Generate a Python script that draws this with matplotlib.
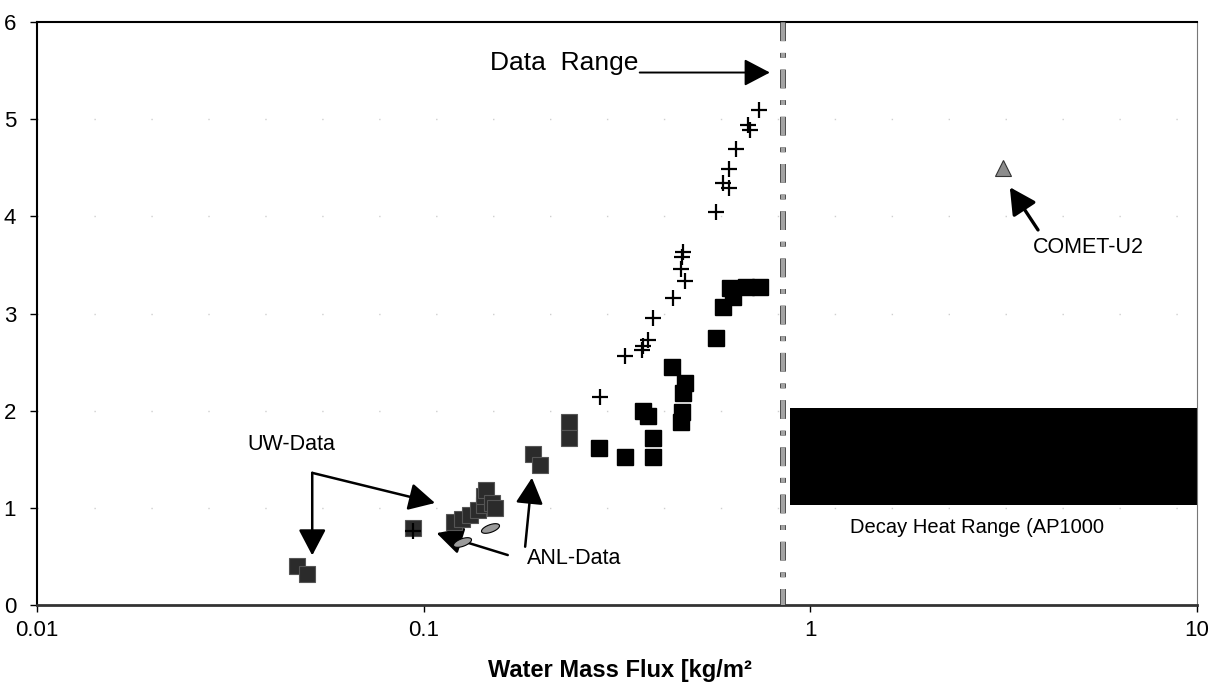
import matplotlib
matplotlib.use("Agg")
import matplotlib.pyplot as plt
import matplotlib.patheffects as pe
import numpy as np

plt.rcParams['font.family'] = ['Liberation Sans', 'DejaVu Sans']
plt.rcParams['lines.scale_dashes'] = False

# crosses
plus_x = [0.736, 0.69, 0.70, 0.643, 0.615, 0.594, 0.615, 0.570, 0.469, 0.466, 0.464,
          0.474, 0.441, 0.392, 0.381, 0.369, 0.367, 0.332, 0.286, 0.094]
plus_y = [5.09, 4.94, 4.89, 4.69, 4.49, 4.34, 4.29, 4.04, 3.63, 3.58, 3.46,
          3.33, 3.16, 2.95, 2.73, 2.67, 2.62, 2.56, 2.14, 0.76]

# black squares
sq_x = [0.439, 0.474, 0.469, 0.466, 0.464, 0.370, 0.380, 0.392, 0.392, 0.332,
        0.284, 0.570, 0.594, 0.619, 0.68, 0.74, 0.63]
sq_y = [2.45, 2.28, 2.18, 1.99, 1.88, 2.00, 1.95, 1.72, 1.52, 1.52,
        1.62, 2.75, 3.07, 3.26, 3.27, 3.27, 3.17]

# dark hatched squares (UW / ANL)
uw_x = [0.238, 0.238, 0.192, 0.200, 0.094, 0.047, 0.050,
        0.120, 0.126, 0.132, 0.138, 0.143, 0.143, 0.145, 0.150, 0.153]
uw_y = [1.88, 1.72, 1.55, 1.44, 0.79, 0.40, 0.32,
        0.85, 0.88, 0.93, 0.98, 1.03, 1.12, 1.18, 1.05, 1.00]

# small gray ellipses
ell_x = [0.148, 0.126]
ell_y = [0.79, 0.65]

comet_x = [3.15]
comet_y = [4.50]

data_range_x = 0.85
decay_x = [0.886, 10]
decay_lo = 1.03
decay_hi = 2.03

fig = plt.figure(figsize=(12.17, 6.95), dpi=100)
ax = fig.add_axes([37/1217, 1-605/695, (1197-37)/1217, (605-22)/695])
ax.set_xscale('log')
ax.set_xlim(0.01, 10)
ax.set_ylim(0, 6)

# sparse dotted grid
for yy in [1, 2, 3, 4, 5]:
    ax.axhline(yy, color='#cfcfcf', lw=1, ls=(0, (1, 40)), zorder=0)

ax.fill_between(decay_x, decay_lo, decay_hi, color='black', lw=0, zorder=2)

vl = ax.axvline(data_range_x, color='#a3a3a3', lw=3.0, ls=(2, (13.5, 8.5, 3.5, 8.5)), zorder=3)
vl.set_path_effects([pe.Stroke(linewidth=4.2, foreground='#3a3a3a'), pe.Normal()])

ax.plot(uw_x, uw_y, 's', ms=11, color='#2b2b2b', mec='#555555', mew=0.8, zorder=4)
ax.plot(sq_x, sq_y, 's', ms=11.5, color='black', zorder=4)
ax.plot(plus_x, plus_y, '+', ms=12, mew=1.6, color='black', zorder=5)

t = np.linspace(0, 2*np.pi, 30)
ang = np.radians(20)
ex = 1.0*np.cos(t)
ey = 0.4*np.sin(t)
ell_marker = np.column_stack([ex*np.cos(ang) - ey*np.sin(ang), ex*np.sin(ang) + ey*np.cos(ang)])
ax.plot(ell_x, ell_y, ls='none', marker=ell_marker, ms=13, color='#9a9a9a', mec='black', mew=0.8, zorder=5)

ax.plot(comet_x, comet_y, '^', ms=11, color='#8c8c8c', mec='#333333', mew=0.8, zorder=5)

arrow = dict(arrowstyle='-|>,head_length=0.8,head_width=0.42', color='black', lw=1.8,
             mutation_scale=20, shrinkA=0, shrinkB=0)

ax.text(0.148, 5.58, 'Data  Range', fontsize=19, va='center', ha='left')
ax.annotate('', xy=(0.786, 5.48), xytext=(0.362, 5.48),
            arrowprops=dict(arrow, lw=1.4))

ax.text(0.0349, 1.65, 'UW-Data', fontsize=15.5, va='center', ha='left')
ax.annotate('', xy=(0.0515, 0.51), xytext=(0.0515, 1.36), arrowprops=arrow)
ax.annotate('', xy=(0.107, 1.05), xytext=(0.0515, 1.36), arrowprops=arrow)

ax.text(0.185, 0.48, 'ANL-Data', fontsize=15.5, va='center', ha='left')
ax.annotate('', xy=(0.108, 0.74), xytext=(0.165, 0.514), arrowprops=arrow)
ax.annotate('', xy=(0.1906, 1.31), xytext=(0.183, 0.60), arrowprops=arrow)

ax.text(3.77, 3.68, 'COMET-U2', fontsize=15.5, va='center', ha='left')
ax.annotate('', xy=(3.28, 4.30), xytext=(3.88, 3.86), arrowprops=dict(arrow, lw=2.4))

ax.text(1.27, 0.80, 'Decay Heat Range (AP1000', fontsize=14.5, va='center', ha='left')

ax.set_xticks([0.01, 0.1, 1, 10])
ax.set_xticklabels(['0.01', '0.1', '1', '10'])
ax.xaxis.set_minor_locator(matplotlib.ticker.NullLocator())
ax.set_yticks([0, 1, 2, 3, 4, 5, 6])
ax.tick_params(axis='both', labelsize=16, length=5, width=1, direction='out')
ax.tick_params(axis='y', pad=10)
ax.tick_params(axis='x', pad=6)

ax.spines['left'].set_linewidth(1.5)
ax.spines['top'].set_linewidth(1.5)
ax.spines['bottom'].set_linewidth(2)
ax.spines['bottom'].set_color('#333333')
ax.spines['right'].set_linewidth(0.8)
ax.spines['right'].set_color('#777777')

fig.text(620/1217, 1-670/695, 'Water Mass Flux [kg/m\u00b2', fontsize=17, fontweight='bold',
         ha='center', va='center')

fig.savefig('out.png', dpi=100)
